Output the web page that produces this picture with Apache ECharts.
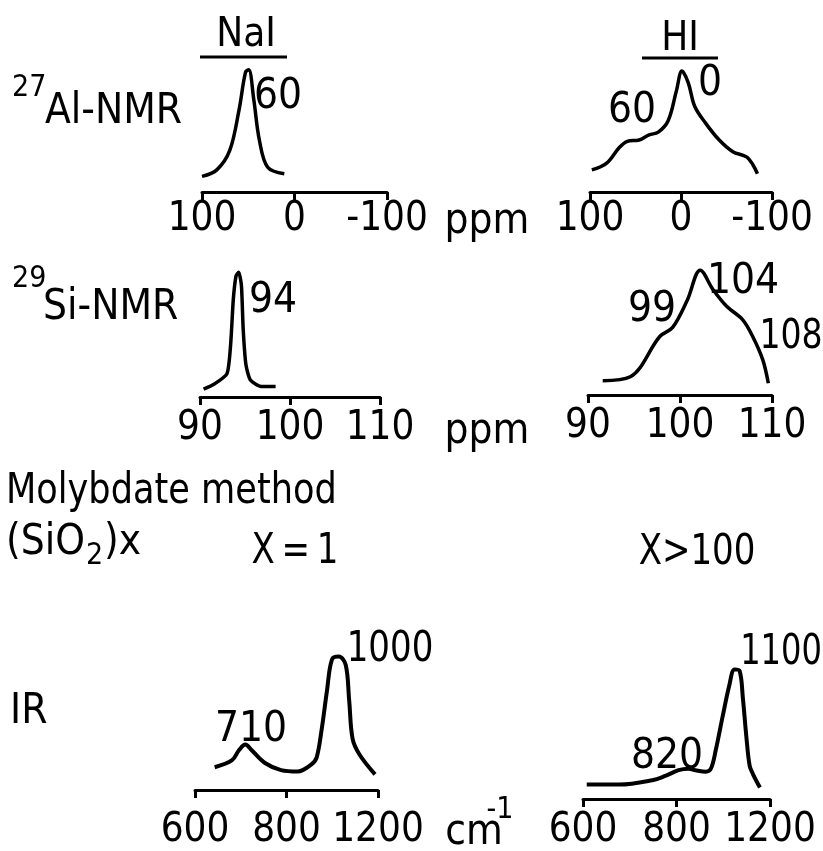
<!DOCTYPE html>
<html>
<head>
<meta charset="utf-8">
<script src="https://cdn.jsdelivr.net/npm/echarts@6/dist/echarts.min.js"></script>
<style>
  html, body { margin: 0; padding: 0; background: #fff; }
  #main { width: 823px; height: 851px; }
</style>
</head>
<body>
<div id="main"></div>
<script>
// tick labels
const alTicks = [100, 0, -100];
const siTicks = [90, 100, 110];
const irTicks = [600, 800, 1200];

// 27Al-NMR, NaI
const alNaIPpm = [100, 84, 70, 60, 53, 49.5, 44, 38, 29, 11];
const alNaIInt = [0.12, 0.17, 0.32, 0.63, 0.92, 0.94, 0.71, 0.40, 0.19, 0.14];
// 27Al-NMR, HI
const alHIPpm = [98, 82, 68, 59, 46, 35, 25, 14, 5, -1, -8, -15, -27, -42, -57, -72, -79, -84];
const alHIInt = [0.17, 0.22, 0.34, 0.39, 0.40, 0.44, 0.46, 0.55, 0.78, 0.93, 0.84, 0.66, 0.53, 0.40, 0.31, 0.27, 0.21, 0.14];

// 29Si-NMR, NaI
const siNaIPpm = [90.4, 91.6, 93.0, 93.4, 93.7, 94.0, 94.3, 94.6, 94.8, 95.1, 95.6, 96.8, 98.4];
const siNaIInt = [0.06, 0.10, 0.18, 0.40, 0.75, 0.93, 0.96, 0.86, 0.52, 0.25, 0.13, 0.08, 0.08];
// 29Si-NMR, HI
const siHIPpm = [91.6, 94.6, 97.8, 99.2, 100.8, 102.2, 103.6, 105.1, 106.8, 107.9, 109.0, 109.6];
const siHIInt = [0.11, 0.14, 0.45, 0.52, 0.73, 0.96, 0.81, 0.68, 0.58, 0.45, 0.27, 0.09];

// IR, NaI (cm-1)
const irNaIWn = [643, 681, 696, 710, 724, 753, 788, 849, 909, 932, 954, 977, 999, 1029, 1059, 1074, 1089, 1119, 1187];
const irNaIInt = [0.16, 0.21, 0.28, 0.32, 0.28, 0.19, 0.14, 0.13, 0.18, 0.23, 0.43, 0.70, 0.92, 0.94, 0.88, 0.63, 0.36, 0.25, 0.11];
// IR, HI
const irHIWn = [608, 678, 748, 776, 809, 852, 881, 925, 947, 968, 997, 1026, 1048, 1070, 1084, 1099, 1113, 1128, 1157];
const irHIInt = [0.10, 0.10, 0.13, 0.16, 0.20, 0.21, 0.20, 0.19, 0.21, 0.34, 0.57, 0.79, 0.90, 0.89, 0.70, 0.43, 0.23, 0.17, 0.08];

const FONT = '"DejaVu Sans Condensed", "Liberation Sans Narrow", sans-serif';

// the IR axis is drawn with 600-800 and 800-1200 taking the same width
function irPos(w) {
  return w <= irTicks[1]
    ? (w - irTicks[0]) / (irTicks[1] - irTicks[0])
    : 1 + (w - irTicks[1]) / (irTicks[2] - irTicks[1]);
}

function pairs(xs, ys, fx) {
  return xs.map((x, i) => [fx ? fx(x) : x, ys[i]]);
}

const myChart = echarts.init(document.getElementById('main'));

// grid boxes: bottom edge = the drawn axis line
const grids = [
  { left: 202, top: 62, width: 185, height: 130 },
  { left: 590, top: 62, width: 182, height: 130 },
  { left: 200, top: 267, width: 180, height: 130 },
  { left: 588, top: 265, width: 184, height: 130 },
  { left: 195, top: 648, width: 183, height: 150 },
  { left: 583, top: 655, width: 187, height: 150 }
];
const labelMargins = [28, 28, 32, 32, 41, 32];

function xAxisFor(i, kind) {
  const base = {
    gridIndex: i,
    type: 'value',
    splitLine: { show: false },
    axisLine: { lineStyle: { color: '#000', width: 3 } },
    axisTick: { show: true, length: 8, lineStyle: { color: '#000', width: 3 } },
    axisLabel: {
      color: '#000', fontFamily: FONT, fontSize: 40,
      verticalAlign: 'middle', margin: labelMargins[i],
      showMinLabel: true, showMaxLabel: true
    }
  };
  if (kind === 'al') {
    return Object.assign(base, { min: alTicks[2], max: alTicks[0], interval: 100, inverse: true });
  }
  if (kind === 'si') {
    return Object.assign(base, { min: siTicks[0], max: siTicks[2], interval: 10 });
  }
  base.min = 0; base.max = 2; base.interval = 1;
  base.axisLabel.formatter = v => String(irTicks[Math.round(v)]);
  return base;
}

const kinds = ['al', 'al', 'si', 'si', 'ir', 'ir'];
const seriesData = [
  pairs(alNaIPpm, alNaIInt),
  pairs(alHIPpm, alHIInt),
  pairs(siNaIPpm, siNaIInt),
  pairs(siHIPpm, siHIInt),
  pairs(irNaIWn, irNaIInt, irPos),
  pairs(irHIWn, irHIInt, irPos)
];

function txt(text, x, y, size, align, sx) {
  return {
    type: 'text', x: x, y: y, scaleX: sx || 1,
    style: {
      text: text, fill: '#000', fontFamily: FONT, fontSize: size,
      textAlign: align || 'center', textVerticalAlign: 'middle'
    }
  };
}
function bar(x1, x2, y) {
  return { type: 'line', shape: { x1: x1, y1: y, x2: x2, y2: y }, style: { stroke: '#000', lineWidth: 3 } };
}

myChart.setOption({
  backgroundColor: '#fff',
  animation: false,
  grid: grids,
  xAxis: kinds.map((k, i) => xAxisFor(i, k)),
  yAxis: grids.map((g, i) => ({ gridIndex: i, type: 'value', min: 0, max: 1, show: false })),
  series: seriesData.map((d, i) => ({
    type: 'line',
    xAxisIndex: i,
    yAxisIndex: i,
    data: d,
    smooth: i === 2 ? 0.2 : 0.35,
    showSymbol: false,
    lineStyle: { color: '#000', width: i >= 4 ? 4 : 3.5 }
  })),
  graphic: [
    txt('NaI', 246, 36, 40), bar(200, 287, 57),
    txt('HI', 680, 40, 40), bar(642, 718, 58),
    txt('27', 12, 88, 30, 'left'), txt('Al-NMR', 45, 112, 42, 'left'),
    txt('29', 12, 279, 30, 'left'), txt('Si-NMR', 43, 308, 42, 'left'),
    txt('60', 278, 97, 42),
    txt('60', 632, 111, 42), txt('0', 710, 84, 42),
    txt('94', 273, 301, 42),
    txt('99', 652, 310, 42), txt('104', 743, 282, 42), txt('108', 791, 338, 40, 'center', 0.92),
    txt('ppm', 487, 222, 42), txt('ppm', 487, 432, 42),
    txt('Molybdate method', 6, 492, 42, 'left', 0.93),
    txt('(SiO', 6, 543, 42, 'left'), txt('2', 86, 556, 30, 'left'), txt(')x', 104, 543, 42, 'left'),
    txt('X\u2009=\u20091', 295, 552, 42, 'center', 0.9), txt('X>100', 697, 553, 42, 'center', 0.9),
    txt('IR', 10, 712, 42, 'left'),
    txt('710', 251, 730, 42), txt('1000', 390, 650, 42, 'center', 0.9),
    txt('820', 667, 757, 42), txt('1100', 781, 653, 42, 'center', 0.85),
    txt('cm', 474, 833, 42), txt('-1', 500, 810, 30)
  ]
});
myChart.resize();
</script>
</body>
</html>
